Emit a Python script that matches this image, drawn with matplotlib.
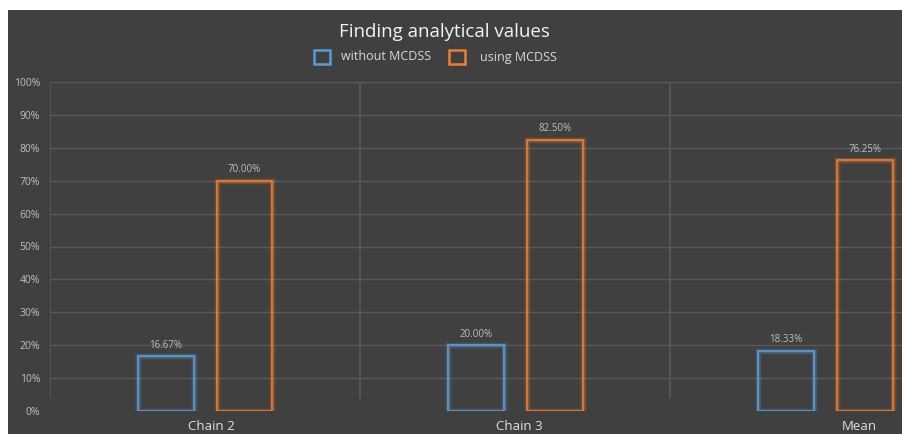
import numpy as np
import matplotlib.pyplot as plt
from matplotlib.patches import Rectangle

## data
categories = ['Chain 2', 'Chain 3', 'Mean']
without_mcdss = [16.67, 20.00, 18.33]
using_mcdss = [70.00, 82.50, 76.25]
series_names = ['without MCDSS', 'using MCDSS']
y_ticks = [0, 10, 20, 30, 40, 50, 60, 70, 80, 90, 100]

bg = '#404040'
blue = '#5b9bd5'
orange = '#ed7d31'
font = ['Open Sans', 'DejaVu Sans']

fig = plt.figure(figsize=(9.03, 4.34), dpi=100, facecolor=bg)
# white strips at left and top of the picture
fig.patches.append(Rectangle((0, 0), 8 / 903, 1, transform=fig.transFigure,
                             facecolor='white', edgecolor='none', zorder=0))
fig.patches.append(Rectangle((0, 1 - 10 / 434), 1, 10 / 434, transform=fig.transFigure,
                             facecolor='white', edgecolor='none', zorder=0))

ax = fig.add_axes([50 / 903, 23 / 434, 1 - 50 / 903, (411 - 82) / 434])
ax.set_facecolor(bg)

x = np.arange(len(categories))
w = 0.18
off = 0.127

# horizontal grid
for t in y_ticks[1:]:
    ax.axhline(t, color='#595959', lw=1, zorder=1)
# vertical category separators
for b in [-0.5, 0.5, 1.5]:
    ax.plot([b, b], [4, 100], color='#595959', lw=1.2, zorder=1)

def glow_bars(xs, vals, color):
    # soft glow behind the outline
    for lw, a in [(5, 0.08), (3.5, 0.15), (2.4, 0.25)]:
        ax.bar(xs, vals, w, facecolor='none', edgecolor=color, lw=lw, alpha=a, zorder=2)
    ax.bar(xs, vals, w, facecolor='none', edgecolor=color, lw=1.2, zorder=3)

glow_bars(x - off, without_mcdss, blue)
glow_bars(x + off, using_mcdss, orange)

for xi, v in zip(x - off, without_mcdss):
    ax.annotate('%.2f%%' % v, (xi, v), xytext=(0, 4), textcoords='offset points',
                ha='center', va='bottom', color='#bfbfbf', fontsize=7, family=font)
for xi, v in zip(x + off, using_mcdss):
    ax.annotate('%.2f%%' % v, (xi, v), xytext=(0, 4), textcoords='offset points',
                ha='center', va='bottom', color='#bfbfbf', fontsize=7, family=font)

ax.set_xlim(-0.5, 2.25)
ax.set_ylim(0, 100)
ax.set_yticks(y_ticks)
ax.set_yticklabels(['%d%%' % t for t in y_ticks], color='#bfbfbf', fontsize=7.5, family=font)
ax.tick_params(axis='y', length=0, pad=7)
ax.set_xticks([])
# category labels, the last one sits further right in the original
label_x = [0.02, 1.013, 2.11]
for lx_, name in zip(label_x, categories):
    ax.annotate(name, (lx_, 0), xytext=(0, -11), textcoords='offset points',
                ha='center', va='center', color='#e0e0e0', fontsize=9.5, family=font,
                annotation_clip=False)
for s in ax.spines.values():
    s.set_visible(False)

fig.text(444 / 903, 1 - 32 / 434, 'Finding analytical values', ha='center', va='center',
         color='#f2f2f2', fontsize=13.5, family=font)

# legend
lx = [314, 449]
tx = [341, 480]
for i, (c, name) in enumerate(zip([blue, orange], series_names)):
    fig.patches.append(Rectangle((lx[i] / 903, 1 - 64 / 434), 16 / 903, 14 / 434,
                                 transform=fig.transFigure, facecolor='none',
                                 edgecolor=c, lw=1.8))
    fig.text(tx[i] / 903, 1 - 57 / 434, name, ha='left', va='center',
             color='#d9d9d9', fontsize=9, family=font)

fig.savefig('out.png', dpi=100, facecolor=fig.get_facecolor())
